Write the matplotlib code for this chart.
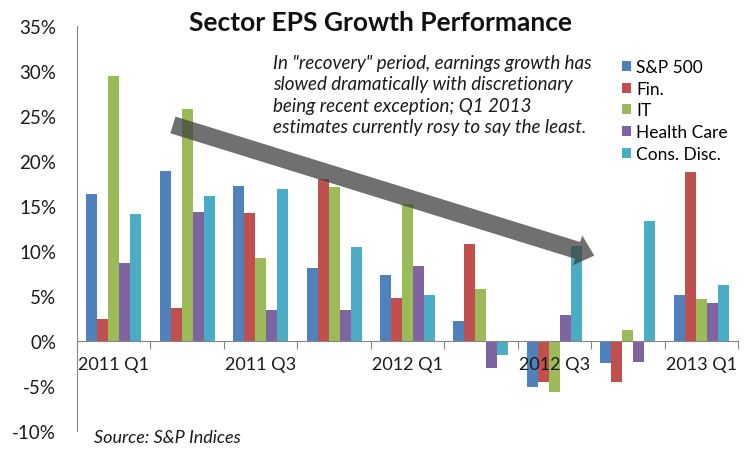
from matplotlib import pyplot as plt
from matplotlib.ticker import FixedLocator, FuncFormatter
import numpy as np

# quarters and growth per sector (percent)
quarters = ['2011 Q1', '2011 Q2', '2011 Q3', '2011 Q4', '2012 Q1',
            '2012 Q2', '2012 Q3', '2012 Q4', '2013 Q1']
sectors = ['S&P 500', 'Fin.', 'IT', 'Health Care', 'Cons. Disc.']
sp500 = [16.3, 18.9, 17.2, 8.1, 7.3, 2.2, -5.1, -2.4, 5.1]
fin = [2.4, 3.7, 14.2, 18.0, 4.8, 10.8, -4.6, -4.6, 18.8]
it = [29.4, 25.8, 9.2, 17.1, 15.2, 5.8, -5.7, 1.2, 4.7]
health = [8.7, 14.3, 3.4, 3.4, 8.3, -3.0, 2.9, -2.3, 4.2]
cons_disc = [14.1, 16.1, 16.9, 10.4, 5.1, -1.5, 10.6, 13.3, 6.2]
colors = ['#4F81BD', '#C0504D', '#9BBB59', '#8064A2', '#4BACC6']

plt.rcParams['font.family'] = ['Lato', 'DejaVu Sans']

fig = plt.figure(figsize=(7.5, 4.52), dpi=100)
ax = fig.add_axes([77/750, 20/452, 661/750, 405/452])

x = np.arange(len(quarters))
width = 0.15
series = [sp500, fin, it, health, cons_disc]
for k, (vals, name, col) in enumerate(zip(series, sectors, colors)):
    ax.bar(x + (k - 2) * width, vals, width, color=col, label=name, zorder=1)

ax.set_xlim(-0.5, len(quarters) - 0.5)
ax.set_ylim(-10, 35)
ax.set_yticks(np.arange(-10, 36, 5))
ax.yaxis.set_major_formatter(FuncFormatter(lambda v, p: '%d%%' % v))
ax.tick_params(axis='y', length=0, labelsize=13.5, pad=15, colors='#1a1a1a')

for s in ['top', 'right']:
    ax.spines[s].set_visible(False)
ax.spines['left'].set_color('#868686')
ax.spines['bottom'].set_position(('data', 0))
ax.spines['bottom'].set_color('#868686')

# group boundary ticks, labels on every other quarter
ax.xaxis.set_major_locator(FixedLocator(np.arange(-0.5, len(quarters), 1.0)))
ax.xaxis.set_major_formatter(FuncFormatter(lambda v, p: ''))
ax.xaxis.set_minor_locator(FixedLocator(x[::2]))
ax.xaxis.set_minor_formatter(FuncFormatter(lambda v, p: quarters[int(round(v))]))
ax.tick_params(axis='x', which='major', direction='out', length=6, color='#868686')
ax.tick_params(axis='x', which='minor', length=0, labelsize=13, pad=11, colors='#1a1a1a')

fig.text(380/750, 1 - 23/452, 'Sector EPS Growth Performance', ha='center', va='center',
         fontsize=19, fontweight='bold', color='#111111')

note = ('In "recovery" period, earnings growth has\n'
        'slowed dramatically with discretionary\n'
        'being recent exception; Q1 2013\n'
        'estimates currently rosy to say the least.')
fig.text(273/750, 1 - 55/452, note, ha='left', va='top', fontsize=13.5, style='italic',
         linespacing=1.32, color='#1a1a1a')

fig.text(94/750, 1 - 438/452, 'Source: S&P Indices', ha='left', va='center',
         fontsize=13, style='italic', color='#1a1a1a')

# trend arrow
ax.annotate('', xy=(6.58, 9.4), xytext=(0.77, 24.1),
            arrowprops=dict(arrowstyle='simple,head_length=0.9,head_width=1.6,tail_width=0.9',
                            color='#404040', alpha=0.75, lw=0, mutation_scale=14),
            zorder=3)

fig.legend(loc='upper left', bbox_to_anchor=(622/750, 1 - 60/452), frameon=False,
           fontsize=12.5, handlelength=0.5, handleheight=0.5, handletextpad=0.3,
           labelspacing=0.33, borderpad=0, borderaxespad=0)

fig.savefig('out.png', dpi=100)
